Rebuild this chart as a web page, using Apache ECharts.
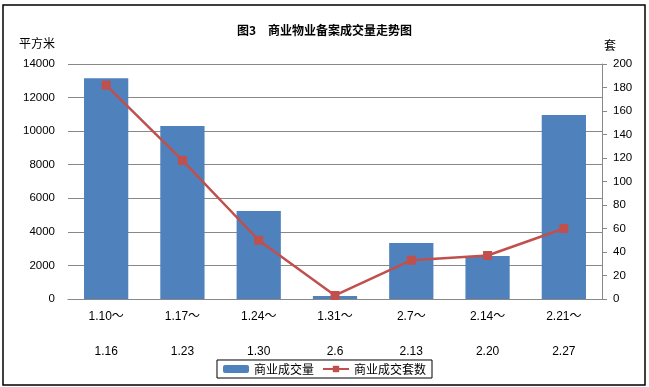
<!DOCTYPE html>
<html><head><meta charset="utf-8">
<script src="https://cdn.jsdelivr.net/npm/echarts@6/dist/echarts.min.js"></script>
<style>html,body{margin:0;padding:0;background:#fff}#c{width:649px;height:387px}</style>
</head><body><div id="c"></div>
<script>
const categories = ['1.10～\n\n1.16','1.17～\n\n1.23','1.24～\n\n1.30','1.31～\n\n2.6','2.7～\n\n2.13','2.14～\n\n2.20','2.21～\n\n2.27'];
const areaValues = [13150, 10300, 5250, 180, 3330, 2560, 10960];
const unitValues = [182, 118, 50, 3, 33, 37, 60];
const leftTicks = {min: 0, max: 14000, interval: 2000};
const rightTicks = {min: 0, max: 200, interval: 20};
const titleText = '图3　商业物业备案成交量走势图';
const seriesNames = ['商业成交量', '商业成交套数'];

const NUM = '"Liberation Sans","Noto Sans CJK SC",sans-serif';
const CJK = '"Noto Sans CJK SC",sans-serif';
const chart = echarts.init(document.getElementById('c'), null, {renderer: 'canvas'});
chart.setOption({
  animation: false,
  backgroundColor: '#fff',
  title: {text: titleText, left: 'center', top: 19, textStyle: {fontSize: 12, fontWeight: 'bold', color: '#000', fontFamily: CJK}},
  graphic: [
    {type: 'rect', shape: {x: 3, y: 5, width: 642, height: 380}, style: {fill: 'none', stroke: '#000', lineWidth: 1.5}},
    {type: 'text', left: 19, top: 37, style: {text: '平方米', fontSize: 12, fill: '#000', fontFamily: CJK}},
    {type: 'text', left: 604, top: 39, style: {text: '套', fontSize: 12, fill: '#000', fontFamily: CJK}}
  ],
  legend: {
    bottom: 9, left: 'center', data: seriesNames,
    itemWidth: 26, itemHeight: 8, itemGap: 8,
    borderColor: '#000', borderWidth: 1, padding: [3, 6, 3, 6],
    textStyle: {fontSize: 12, color: '#000', fontFamily: CJK}
  },
  grid: {left: 68, right: 47, top: 64, bottom: 88, containLabel: false},
  xAxis: {
    type: 'category', data: categories,
    axisLine: {lineStyle: {color: '#888', width: 1}},
    axisTick: {show: false},
    axisLabel: {interval: 0, color: '#000', fontSize: 12, lineHeight: 17.5, margin: 9, fontFamily: NUM}
  },
  yAxis: [
    {type: 'value', min: leftTicks.min, max: leftTicks.max, interval: leftTicks.interval,
     axisLine: {show: false}, axisTick: {show: false},
     axisLabel: {color: '#000', fontSize: 11.5, margin: 13, fontFamily: NUM, formatter: v => String(v)},
     splitLine: {lineStyle: {color: '#888', width: 1}}},
    {type: 'value', min: rightTicks.min, max: rightTicks.max, interval: rightTicks.interval, position: 'right',
     axisLine: {show: true, lineStyle: {color: '#888'}},
     axisTick: {show: true, length: 5, lineStyle: {color: '#888'}},
     axisLabel: {color: '#000', fontSize: 11.5, margin: 11, fontFamily: NUM, formatter: v => String(v)},
     splitLine: {show: false}}
  ],
  series: [
    {name: seriesNames[0], type: 'bar', data: areaValues, barWidth: '58%', itemStyle: {color: '#4F81BD'}, yAxisIndex: 0},
    {name: seriesNames[1], type: 'line', data: unitValues, yAxisIndex: 1, symbol: 'rect', symbolSize: 9,
     lineStyle: {color: '#C0504D', width: 2.5}, itemStyle: {color: '#C0504D'}}
  ]
});
</script></body></html>
